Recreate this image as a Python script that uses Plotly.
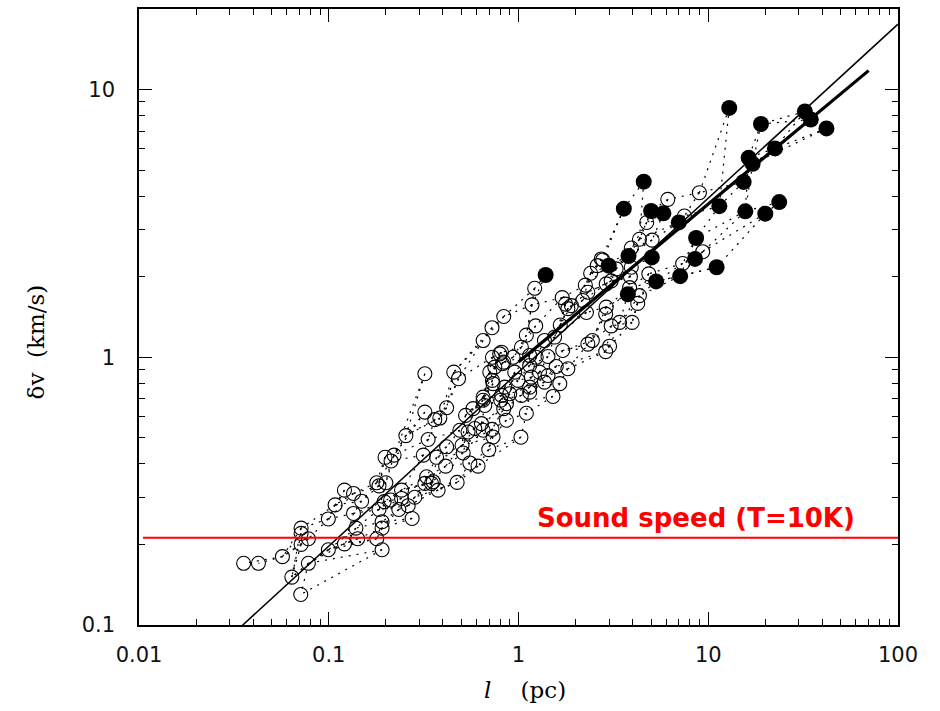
import numpy as np
import plotly.graph_objects as go

# ---- data (l in pc, dv in km/s) ----
open_l = [0.0356, 0.0426, 0.0570, 0.0639, 0.0712, 0.0781, 0.0715, 0.0715, 0.0781, 0.0715,
          0.0995, 0.0995, 0.108, 0.121, 0.135, 0.139, 0.142, 0.121, 0.135, 0.149,
          0.179, 0.191, 0.191, 0.191, 0.184, 0.196, 0.179, 0.200, 0.184, 0.198,
          0.221, 0.213, 0.234, 0.242, 0.242, 0.262, 0.275, 0.284, 0.212, 0.315,
          0.328, 0.348, 0.321, 0.255, 0.334, 0.370, 0.321, 0.362, 0.385, 0.418,
          0.321, 0.456, 0.483, 0.418, 0.413, 0.355, 0.377, 0.475, 0.504, 0.511,
          0.491, 0.526, 0.554, 0.612, 0.576, 0.651, 0.664, 0.651, 0.588, 0.725,
          0.734, 0.697, 0.729, 0.734, 0.706, 0.750, 0.729, 0.796, 0.651, 0.823,
          0.813, 0.836, 0.864, 0.638, 0.542, 1.217, 1.178, 0.836, 0.725, 1.232,
          1.66, 1.70, 2.25, 2.40, 2.60, 2.78, 1.77, 2.18, 2.28, 1.82,
          2.90, 2.88, 3.41, 3.08, 3.97, 3.89, 2.90, 2.45, 2.32, 3.02,
          2.88, 1.71, 1.55, 1.37, 1.10, 1.036, 1.145, 1.24, 1.43, 1.58,
          1.82, 1.43, 1.29, 1.145, 0.936, 0.813, 0.836, 0.955, 0.994, 1.17,
          1.37, 1.145, 1.145, 1.036, 0.899, 0.846, 0.806, 0.651, 0.864, 1.52,
          1.65, 8.98, 6.12, 7.49, 4.74, 4.34, 5.06, 3.93, 9.35, 7.33,
          4.86, 2.73, 3.27, 3.08, 3.93, 2.32, 1.90, 3.85, 4.34, 4.25,
          1.03, 1.10]
open_dv = [0.170, 0.170, 0.180, 0.151, 0.130, 0.170, 0.230, 0.220, 0.210, 0.200,
           0.191, 0.249, 0.281, 0.201, 0.261, 0.230, 0.210, 0.319, 0.310, 0.290,
           0.210, 0.191, 0.243, 0.230, 0.270, 0.289, 0.340, 0.340, 0.331, 0.423,
           0.431, 0.410, 0.270, 0.319, 0.297, 0.279, 0.250, 0.300, 0.293, 0.431,
           0.358, 0.338, 0.338, 0.510, 0.493, 0.423, 0.624, 0.585, 0.593, 0.648,
           0.868, 0.880, 0.832, 0.463, 0.392, 0.343, 0.319, 0.341, 0.469, 0.439,
           0.534, 0.607, 0.403, 0.392, 0.643, 0.691, 0.661, 0.534, 0.542, 0.538,
           0.504, 0.452, 0.820, 0.797, 0.880, 0.919, 1.00, 1.03, 1.155, 0.946,
           0.721, 0.643, 0.582, 0.565, 0.526, 1.81, 1.57, 1.42, 1.29, 1.31,
           1.32, 1.67, 1.86, 2.06, 2.20, 2.31, 1.58, 1.63, 1.47, 1.52,
           1.54, 1.45, 1.35, 1.31, 1.35, 2.00, 1.88, 1.155, 1.12, 1.10,
           1.05, 1.06, 1.19, 1.155, 1.21, 1.09, 1.015, 1.00, 1.007, 0.924,
           0.906, 0.855, 0.880, 0.932, 1.00, 1.045, 0.959, 0.880, 0.820, 0.843,
           0.808, 0.774, 0.741, 0.721, 0.731, 0.774, 0.691, 0.710, 0.671, 0.714,
           0.797, 4.12, 3.89, 3.37, 3.19, 2.76, 2.74, 2.56, 2.48, 2.24,
           2.05, 2.33, 2.14, 1.93, 2.17, 1.75, 1.56, 1.82, 1.70, 1.59,
           0.503, 0.618]

filled_l = [1.39, 2.99, 3.59, 3.80, 3.77, 4.57, 5.00, 5.04, 5.31, 5.80,
            6.99, 7.11, 8.52, 8.63, 11.07, 11.44, 12.9, 15.36, 15.68, 16.32,
            17.13, 18.96, 19.98, 22.46, 23.66, 32.3, 34.7, 41.97]
filled_dv = [2.03, 2.20, 3.59, 2.39, 1.72, 4.53, 3.52, 2.36, 1.92, 3.45,
             3.19, 2.01, 2.33, 2.79, 2.17, 3.67, 8.54, 4.52, 3.51, 5.56,
             5.28, 7.44, 3.44, 6.03, 3.80, 8.28, 7.73, 7.16]

# power-law fits: dv = a * l^b
fit_thin = dict(a=0.88, b=0.65, lmin=0.035, lmax=100.0)
fit_thick = dict(a=0.96, b=0.59, lmin=1.0, lmax=70.0)

sound_speed = 0.212
sound_label = "Sound speed (T=10K)"
x_ticks = [0.01, 0.1, 1, 10, 100]
x_ticktext = ["0.01", "0.1", "1", "10", "100"]
y_ticks = [0.1, 1, 10]
y_ticktext = ["0.1", "1", "10"]

x_minor = [k * 10.0 ** e for e in range(-2, 2) for k in range(2, 10)]
y_minor = [k * 10.0 ** e for e in range(-1, 2) for k in range(2, 10) if k * 10.0 ** e < 20]

# ---- dotted connections: each point to its two nearest lower-left neighbours ----
all_l = np.array(open_l + filled_l)
all_v = np.array(open_dv + filled_dv)
u = np.log10(all_l) * 190.0
w = np.log10(all_v) * 268.5
lx, ly = [], []
for i in range(len(all_l)):
    cands = []
    for j in range(len(all_l)):
        if u[j] < u[i] - 3 and w[j] < w[i] - 3:
            d = np.hypot(u[i] - u[j], w[i] - w[j])
            if d < 120:
                cands.append((d, j))
    cands.sort()
    for d, j in cands[:2]:
        lx += [all_l[i], all_l[j], None]
        ly += [all_v[i], all_v[j], None]

fig = go.Figure()
fig.add_trace(go.Scatter(x=lx, y=ly, mode="lines",
                         line=dict(color="black", width=1.2, dash="2px,6px"),
                         hoverinfo="skip"))
fig.add_trace(go.Scatter(x=open_l, y=open_dv, mode="markers",
                         marker=dict(symbol="circle-open", size=14, color="black",
                                     line=dict(width=1.1, color="black"))))
fig.add_trace(go.Scatter(x=filled_l, y=filled_dv, mode="markers",
                         marker=dict(symbol="circle", size=16, color="black")))

for f, wd in ((fit_thin, 1.5), (fit_thick, 3.2)):
    xs = np.logspace(np.log10(f["lmin"]), np.log10(f["lmax"]), 50)
    fig.add_trace(go.Scatter(x=xs, y=f["a"] * xs ** f["b"], mode="lines",
                             line=dict(color="black", width=wd), hoverinfo="skip"))

fig.add_trace(go.Scatter(x=[0.0105, 100], y=[sound_speed, sound_speed], mode="lines",
                         line=dict(color="#ff0000", width=2), hoverinfo="skip"))
fig.add_annotation(x=np.log10(8.6), y=np.log10(0.252), xref="x", yref="y",
                   text="<b>" + sound_label + "</b>", showarrow=False,
                   font=dict(family="DejaVu Sans", size=26, color="#ff0000"))

tickfont = dict(family="DejaVu Sans", size=21, color="#111")
common = dict(type="log", showgrid=False, zeroline=False, showline=True,
              linecolor="black", linewidth=1.5, mirror="ticks",
              ticks="inside", ticklen=13, tickwidth=1, tickcolor="black",
              tickfont=tickfont)
fig.update_xaxes(range=[-2, 2], tickvals=x_ticks, ticktext=x_ticktext,
                 ticklabelstandoff=10,
                 minor=dict(ticks="inside", ticklen=6, tickwidth=1, tickcolor="black",
                            tickmode="array", tickvals=x_minor, showgrid=False),
                 **common)
fig.update_yaxes(range=[-1, np.log10(20)], tickvals=y_ticks, ticktext=y_ticktext,
                 ticklabelstandoff=18,
                 minor=dict(ticks="inside", ticklen=6, tickwidth=1, tickcolor="black",
                            tickmode="array", tickvals=y_minor, showgrid=False),
                 **common)

fig.add_annotation(x=-0.136, y=0.46, xref="paper", yref="paper", xanchor="center",
                   yanchor="middle", showarrow=False,
                   text="δv&nbsp;&nbsp;(km/s)", textangle=-90,
                   font=dict(family="DejaVu Serif", size=23, color="black"))
fig.add_annotation(x=0.508, y=-0.105, xref="paper", yref="paper", xanchor="center",
                   yanchor="middle", showarrow=False,
                   text="<i>l</i>&nbsp;&nbsp;&nbsp;&nbsp;(pc)",
                   font=dict(family="DejaVu Serif", size=23, color="black"))

fig.update_layout(width=940, height=711, showlegend=False,
                  paper_bgcolor="white", plot_bgcolor="white",
                  margin=dict(l=139, r=42, t=7, b=86))
fig.write_html("out.html")
